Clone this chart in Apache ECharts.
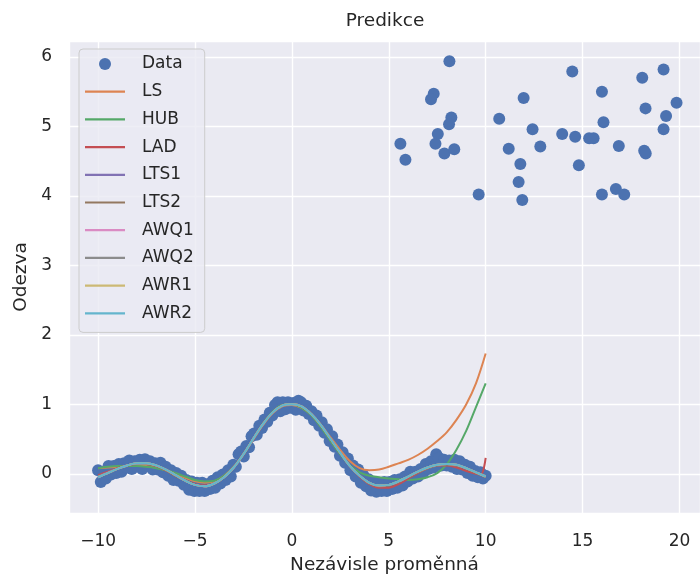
<!DOCTYPE html>
<html>
<head>
<meta charset="utf-8">
<script src="https://cdn.jsdelivr.net/npm/echarts@6/dist/echarts.min.js"></script>
<style>
html,body{margin:0;padding:0;background:#fff;}
#chart{width:700px;height:575px;}
</style>
</head>
<body>
<div id="chart"></div>
<script>
// ---- data ----
const sincX = [-10.00,-9.86,-9.73,-9.60,-9.46,-9.33,-9.19,-9.06,-8.93,-8.79,-8.66,-8.52,-8.39,-8.26,-8.12,-7.99,-7.85,-7.72,-7.58,-7.45,-7.32,-7.18,-7.05,-6.91,-6.78,-6.65,-6.51,-6.38,-6.24,-6.11,-5.97,-5.84,-5.71,-5.57,-5.44,-5.30,-5.17,-5.03,-4.90,-4.77,-4.63,-4.50,-4.36,-4.23,-4.09,-3.96,-3.83,-3.69,-3.56,-3.42,-3.29,-3.15,-3.02,-2.89,-2.75,-2.62,-2.48,-2.35,-2.21,-2.08,-1.95,-1.81,-1.68,-1.54,-1.41,-1.27,-1.14,-1.01,-0.87,-0.74,-0.60,-0.47,-0.34,-0.20,-0.07,0.07,0.20,0.34,0.47,0.60,0.74,0.87,1.01,1.14,1.27,1.41,1.54,1.68,1.81,1.95,2.08,2.21,2.35,2.48,2.62,2.75,2.89,3.02,3.15,3.29,3.42,3.56,3.69,3.83,3.96,4.09,4.23,4.36,4.50,4.63,4.77,4.90,5.03,5.17,5.30,5.44,5.57,5.71,5.84,5.97,6.11,6.24,6.38,6.51,6.65,6.78,6.91,7.05,7.18,7.32,7.45,7.58,7.72,7.85,7.99,8.12,8.26,8.39,8.52,8.66,8.79,8.93,9.06,9.19,9.33,9.46,9.60,9.73,9.86,10.00];
const sincY = [0.05,-0.12,0.03,-0.07,0.11,-0.01,0.11,0.01,0.14,0.03,0.15,0.09,0.19,0.07,0.18,0.10,0.20,0.07,0.21,0.12,0.18,0.06,0.15,0.06,0.16,0.02,0.10,-0.03,0.05,-0.09,0.01,-0.10,-0.03,-0.16,-0.09,-0.23,-0.11,-0.25,-0.13,-0.25,-0.13,-0.25,-0.15,-0.22,-0.10,-0.20,-0.05,-0.14,-0.01,-0.09,0.05,-0.04,0.13,0.10,0.28,0.32,0.25,0.40,0.38,0.54,0.58,0.56,0.69,0.66,0.78,0.75,0.88,0.84,0.99,1.03,0.90,1.03,0.93,1.03,0.95,1.02,0.92,1.05,1.03,0.91,0.98,0.86,0.90,0.77,0.84,0.69,0.74,0.59,0.64,0.47,0.54,0.39,0.42,0.26,0.31,0.16,0.22,0.05,0.12,-0.04,0.06,-0.13,-0.02,-0.18,-0.08,-0.24,-0.12,-0.26,-0.13,-0.25,-0.12,-0.25,-0.12,-0.22,-0.09,-0.20,-0.08,-0.17,-0.04,-0.11,0.03,-0.07,0.03,-0.04,0.07,0.01,0.14,0.07,0.18,0.09,0.28,0.23,0.12,0.20,0.12,0.19,0.10,0.20,0.07,0.18,0.06,0.13,0.01,0.10,-0.03,0.04,-0.05,0.02,-0.07,-0.03];
const outX = [8.13,5.60,5.86,7.32,7.18,8.23,8.11,7.53,7.41,7.87,8.38,9.64,10.70,11.96,12.42,11.19,12.82,11.79,11.70,11.89,13.95,14.62,14.47,14.81,15.34,15.57,16.00,16.08,16.87,16.00,16.72,17.15,18.08,18.25,18.18,18.26,19.18,19.31,19.18,19.85];
const outY = [5.94,4.75,4.52,5.47,5.39,5.13,5.03,4.89,4.75,4.61,4.67,4.02,5.11,5.41,4.96,4.68,4.71,4.46,4.20,3.94,4.89,4.85,5.79,4.44,4.83,4.83,5.50,5.06,4.72,4.02,4.10,4.02,5.70,5.26,4.65,4.61,5.82,5.15,4.96,5.34];

const lineX = [-10,-9.5,-9,-8.5,-8,-7.5,-7,-6.5,-6,-5.5,-5,-4.5,-4,-3.5,-3,-2.5,-2,-1.5,-1,-0.5,0,0.5,1,1.5,2,2.5,3,3.5,4,4.5,5,5.5,6,6.5,7,7.5,8,8.5,9,9.5,10];
const ladX = [-10,-9.5,-9,-8.5,-8,-7.5,-7,-6.5,-6,-5.5,-5,-4.5,-4,-3.5,-3,-2.5,-2,-1.5,-1,-0.5,0,0.5,1,1.5,2,2.5,3,3.5,4,4.5,5,5.5,6,6.5,7,7.5,8,8.5,9,9.5,9.75,10];
const lsY   = [0.08,0.09,0.10,0.11,0.12,0.11,0.09,0.05,0.00,-0.06,-0.11,-0.13,-0.11,-0.03,0.10,0.28,0.49,0.70,0.87,0.97,0.99,0.95,0.85,0.70,0.52,0.34,0.18,0.08,0.05,0.06,0.10,0.15,0.20,0.27,0.36,0.47,0.60,0.78,1.00,1.30,1.73];
const hubY  = [0.08,0.10,0.11,0.11,0.11,0.10,0.08,0.05,0.01,-0.04,-0.09,-0.11,-0.10,-0.03,0.10,0.28,0.50,0.72,0.89,0.99,1.00,0.95,0.84,0.67,0.47,0.28,0.12,0.02,-0.03,-0.05,-0.07,-0.08,-0.09,-0.08,-0.05,0.01,0.14,0.35,0.62,0.96,1.30];
const ladY  = [-0.02,0.03,0.08,0.12,0.14,0.14,0.11,0.05,-0.03,-0.10,-0.15,-0.17,-0.14,-0.05,0.09,0.28,0.50,0.71,0.88,0.98,1.00,0.97,0.86,0.70,0.50,0.30,0.11,-0.04,-0.15,-0.20,-0.20,-0.15,-0.07,0.01,0.08,0.12,0.12,0.09,0.04,0.00,-0.01,0.23];
const lts1Y = [-0.04,0.02,0.07,0.12,0.14,0.14,0.11,0.06,-0.02,-0.10,-0.16,-0.18,-0.14,-0.05,0.09,0.28,0.50,0.71,0.88,0.98,1.00,0.97,0.86,0.70,0.50,0.30,0.11,-0.03,-0.14,-0.18,-0.17,-0.12,-0.05,0.02,0.08,0.12,0.13,0.12,0.08,0.02,-0.03];
const lts2Y = [-0.05,0.01,0.07,0.12,0.15,0.14,0.11,0.05,-0.03,-0.10,-0.16,-0.18,-0.14,-0.05,0.09,0.28,0.50,0.71,0.88,0.98,1.00,0.97,0.86,0.70,0.50,0.30,0.11,-0.03,-0.14,-0.18,-0.17,-0.12,-0.05,0.02,0.08,0.12,0.13,0.12,0.07,0.01,-0.05];
const awq1Y = [-0.05,0.01,0.07,0.12,0.15,0.15,0.12,0.06,-0.02,-0.10,-0.16,-0.18,-0.14,-0.05,0.09,0.28,0.50,0.71,0.88,0.98,1.00,0.97,0.86,0.70,0.50,0.30,0.11,-0.03,-0.13,-0.17,-0.16,-0.11,-0.04,0.03,0.09,0.13,0.14,0.13,0.08,0.02,-0.04];
const awq2Y = [-0.04,0.01,0.07,0.12,0.15,0.15,0.12,0.06,-0.02,-0.10,-0.16,-0.18,-0.14,-0.05,0.09,0.28,0.50,0.71,0.88,0.98,1.00,0.97,0.86,0.70,0.50,0.30,0.11,-0.03,-0.13,-0.17,-0.16,-0.11,-0.04,0.03,0.09,0.13,0.14,0.13,0.08,0.02,-0.03];
const awr1Y = [-0.05,0.01,0.07,0.12,0.15,0.15,0.12,0.06,-0.02,-0.10,-0.16,-0.18,-0.14,-0.05,0.09,0.28,0.50,0.71,0.88,0.98,1.00,0.97,0.86,0.70,0.50,0.30,0.11,-0.03,-0.13,-0.17,-0.16,-0.11,-0.04,0.03,0.09,0.13,0.14,0.13,0.08,0.02,-0.04];
const awr2Y = [-0.05,0.01,0.07,0.12,0.15,0.15,0.12,0.06,-0.02,-0.10,-0.16,-0.18,-0.14,-0.05,0.09,0.28,0.50,0.71,0.88,0.98,1.00,0.97,0.86,0.70,0.50,0.30,0.11,-0.03,-0.13,-0.17,-0.16,-0.11,-0.04,0.03,0.09,0.13,0.14,0.13,0.08,0.02,-0.04];

const seriesNames = ['Data','LS','HUB','LAD','LTS1','LTS2','AWQ1','AWQ2','AWR1','AWR2'];
const colors = ['#4C72B0','#DD8452','#55A868','#C44E52','#8172B3','#937860','#DA8BC3','#8C8C8C','#CCB974','#64B5CD'];
const titleText = 'Predikce';
const xName = 'Nezávisle proměnná';
const yName = 'Odezva';

// ---- build ----
const zip = (xs, ys) => xs.map((x, i) => [x, ys[i]]);
const scatterData = zip(sincX, sincY).concat(zip(outX, outY));
const lineSets = [
  [lineX, lsY], [lineX, hubY], [ladX, ladY], [lineX, lts1Y], [lineX, lts2Y],
  [lineX, awq1Y], [lineX, awq2Y], [lineX, awr1Y], [lineX, awr2Y]
];
const FONT = 'DejaVu Sans';
const TXT = '#262626';
const minus = v => (v < 0 ? '\u2212' + Math.abs(v) : String(v));
const LINE_ICON = 'path://M0,0L40,0L40,2.2L0,2.2Z';

const series = [{
  name: seriesNames[0], type: 'scatter', data: scatterData,
  symbol: 'circle', symbolSize: 12,
  itemStyle: { color: colors[0], opacity: 1 },
  z: 2
}];
lineSets.forEach((ls, i) => {
  series.push({
    name: seriesNames[i + 1], type: 'line', data: zip(ls[0], ls[1]),
    symbol: 'none', showSymbol: false, smooth: 0.35,
    lineStyle: { color: colors[i + 1], width: 2 },
    itemStyle: { color: colors[i + 1] },
    z: 3 + i
  });
});

const legendData = seriesNames.map((n, i) => (i === 0 ? { name: n, icon: 'circle' } : { name: n, icon: LINE_ICON }));

const chart = echarts.init(document.getElementById('chart'), null, { renderer: 'canvas' });
chart.setOption({
  animation: false,
  backgroundColor: '#ffffff',
  textStyle: { fontFamily: FONT },
  title: {
    text: titleText, left: 385, top: 12, padding: 0, textAlign: 'center',
    textStyle: { fontFamily: FONT, fontSize: 18.5, fontWeight: 'normal', color: TXT }
  },
  grid: {
    left: 69, right: 0, top: 41, bottom: 62, show: true,
    containLabel: false, outerBoundsMode: 'none',
    backgroundColor: '#EAEAF2', borderWidth: 0
  },
  legend: {
    orient: 'vertical', left: 79, top: 49,
    padding: [6.5, 11, 10.6, 6],
    itemWidth: 40, itemHeight: 12, itemGap: 10.7,
    backgroundColor: 'rgba(234,234,242,0.8)', borderColor: '#cccccc', borderWidth: 1, borderRadius: 4,
    data: legendData,
    textStyle: { fontFamily: FONT, fontSize: 17, color: TXT, lineHeight: 17, padding: [0, 0, 0, 12] }
  },
  xAxis: {
    type: 'value', min: -11.5, max: 21.06, minInterval: 5, maxInterval: 5,
    name: xName, nameLocation: 'middle', nameGap: 43,
    nameTextStyle: { fontFamily: FONT, fontSize: 18.5, color: TXT },
    axisLine: { show: false }, axisTick: { show: false },
    axisLabel: { fontFamily: FONT, fontSize: 17, color: TXT, margin: 20.5, showMinLabel: false, showMaxLabel: false, formatter: minus },
    splitLine: { show: true, lineStyle: { color: '#ffffff', width: 1.4 } }
  },
  yAxis: {
    type: 'value', min: -0.565, max: 6.23, minInterval: 1, maxInterval: 1,
    name: yName, nameLocation: 'middle', nameGap: 38, nameRotate: 90,
    nameTextStyle: { fontFamily: FONT, fontSize: 18.5, color: TXT },
    axisLine: { show: false }, axisTick: { show: false },
    axisLabel: { fontFamily: FONT, fontSize: 17, color: TXT, margin: 17, showMinLabel: false, showMaxLabel: false, formatter: minus },
    splitLine: { show: true, lineStyle: { color: '#ffffff', width: 1.4 } }
  },
  series: series
});
</script>
</body>
</html>
